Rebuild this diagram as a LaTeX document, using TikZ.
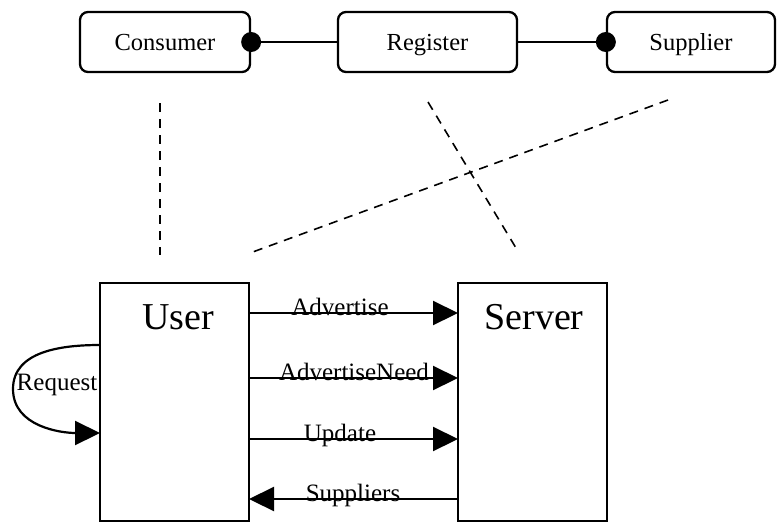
\documentclass[tikz,border=0pt]{standalone}
\usepackage{fontspec}
\setmainfont{Liberation Serif}
\usetikzlibrary{arrows.meta}
\begin{document}
\begin{tikzpicture}[x=1pt,y=-1pt,
  topbox/.style={draw,line width=2.3pt,rounded corners=8pt,minimum height=60pt,inner sep=0pt,text height=18pt,text depth=2pt,font=\fontsize{24.5}{28}\selectfont},
  bigbox/.style={draw,line width=2.3pt,minimum width=149pt,minimum height=238pt,inner sep=0pt},
  bigtext/.style={font=\fontsize{38}{42}\selectfont},
  lbl/.style={font=\fontsize{25}{28}\selectfont,inner sep=0pt},
  msg/.style={line width=2.2pt,-{Triangle[length=25pt,width=24pt]}},
  dot/.style={circle,fill=black,minimum size=20pt,inner sep=0pt},
  dsh/.style={line width=1.6pt,dash pattern=on 9pt off 7pt}]
\useasboundingbox (0,0) rectangle (777,523);
% top boxes
\node[topbox,minimum width=170pt] (consumer) at (165,42) {Consumer};
\node[topbox,minimum width=179pt] (register) at (427.5,42) {Register};
\node[topbox,minimum width=168pt] (supplier) at (691,42) {Supplier};
\node[dot] (d1) at (consumer.east) {};
\node[dot] (d2) at (supplier.west) {};
\draw[line width=2.2pt] (d1.center) -- (register.west);
\draw[line width=2.2pt] (register.east) -- (d2.center);
% dashed lines
\coordinate (a1) at (160,103);
\coordinate (a2) at (160,255);
\coordinate (b1) at (428,102);
\coordinate (b2) at (516,248);
\coordinate (c1) at (668,100);
\coordinate (c2) at (250,253);
\draw[dsh] (a1) -- (a2);
\draw[dsh] (b1) -- (b2);
\draw[dsh] (c1) -- (c2);
% lower boxes
\node[bigbox] (user) at (174.5,402) {};
\node[bigbox] (server) at (532.5,402) {};
\node[bigtext] (usert) at (178,317) {User};
\node[bigtext] (servert) at (534,317) {Server};
% messages
\coordinate (u1) at (249,313); \coordinate (s1) at (458,313);
\coordinate (u2) at (249,378); \coordinate (s2) at (458,378);
\coordinate (u3) at (249,439); \coordinate (s3) at (458,439);
\coordinate (u4) at (249,499); \coordinate (s4) at (458,499);
\draw[msg] (u1) -- (s1);
\draw[msg] (u2) -- (s2);
\draw[msg] (u3) -- (s3);
\draw[msg] (s4) -- (u4);
\node[lbl,anchor=base] (l1) at (340,315) {Advertise};
\node[lbl,anchor=base] (l2) at (354,380) {AdvertiseNeed};
\node[lbl,anchor=base] (l3) at (340,441) {Update};
\node[lbl,anchor=base] (l4) at (353,501) {Suppliers};
% request loop
\coordinate (r1) at (100,345);
\coordinate (r2) at (13,389);
\coordinate (r3) at (100,433);
\draw[msg] (r1) to[out=180,in=90] (r2) to[out=-90,in=180] (r3);
\node[lbl] (req) at (57,385) {Request};
\end{tikzpicture}
\end{document}
